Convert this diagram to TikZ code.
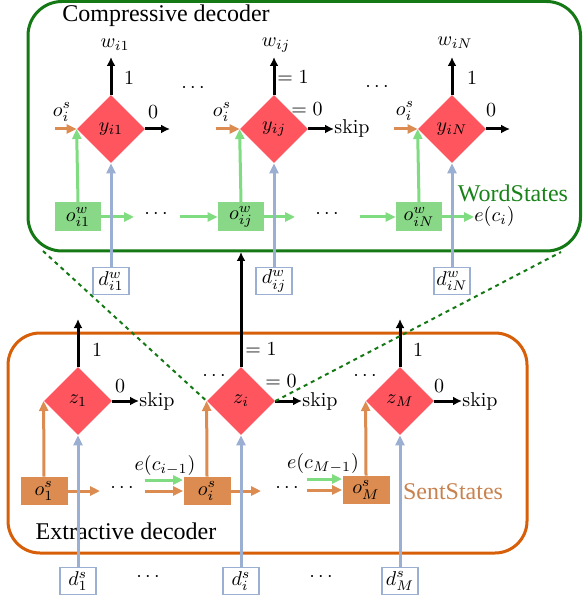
\documentclass[tikz,border=0pt]{standalone}
\usepackage{fontspec}
\newfontfamily\tfont{Liberation Serif}
\usetikzlibrary{shapes.geometric,arrows.meta}
\definecolor{dred}{RGB}{255,85,95}
\definecolor{wgreen}{RGB}{136,216,136}
\definecolor{agreen}{RGB}{128,220,128}
\definecolor{sorange}{RGB}{220,140,80}
\definecolor{dblue}{RGB}{155,175,210}
\definecolor{cgreen}{RGB}{20,120,20}
\definecolor{tgreen}{RGB}{25,130,25}
\definecolor{eorange}{RGB}{215,95,10}
\definecolor{torange}{RGB}{200,130,80}
\begin{document}
\begin{tikzpicture}[x=0.5pt,y=-0.5pt,
  dia/.style={diamond,fill=dred,minimum width=34pt,minimum height=34pt,inner sep=0pt},
  wbox/.style={fill=wgreen,minimum width=23pt,minimum height=14.5pt,inner sep=0pt},
  sbox/.style={fill=sorange,minimum width=23.5pt,minimum height=14pt,inner sep=0pt},
  dbox/.style={draw=dblue,line width=0.8pt,fill=white,minimum width=18pt,minimum height=13.5pt,inner sep=0.5pt},
  blk/.style={line width=1.5pt,-{Latex[length=4.5pt,width=4.5pt]}},
  garr/.style={draw=agreen,line width=1.5pt,-{Triangle[length=5pt,width=4.5pt]}},
  oarr/.style={draw=sorange,line width=1.5pt,-{Triangle[length=5pt,width=4.5pt]}},
  barr/.style={draw=dblue,line width=1.5pt,-{Triangle[length=5pt,width=4.5pt]}},
  gdot/.style={draw=cgreen,line width=1pt,dash pattern=on 2pt off 2pt},
  lbl/.style={inner sep=0pt},
  txt/.style={inner sep=0pt,font=\tfont\fontsize{12}{14}\selectfont}
]
\useasboundingbox (0,0) rectangle (582,603);

% ---------- containers ----------
\draw[cgreen,line width=1.5pt,rounded corners=17pt] (28,1.5) rectangle (580.5,251);
\draw[eorange,line width=1.5pt,rounded corners=16pt] (8,333) rectangle (527,553);
\node[txt] (ctitle) at (166,16) {Compressive decoder};
\node[txt] (etitle) at (126,531) {Extractive decoder};
\node[txt,text=tgreen] (wstates) at (513,193) {WordStates};
\node[txt,text=torange] (sstates) at (453,492) {SentStates};

% ---------- compressive decoder ----------
\node[dia] (Y1) at (111,129) {$y_{i1}$};
\node[dia] (Yj) at (274,129) {$y_{ij}$};
\node[dia] (YN) at (452,129) {$y_{iN}$};
\node[wbox] (OW1) at (78,217) {$o^w_{i1}$};
\node[wbox] (OWj) at (241,217) {$o^w_{ij}$};
\node[wbox] (OWN) at (419,217) {$o^w_{iN}$};
\node[dbox] (DW1) at (111,281) {$d^w_{i1}$};
\node[dbox] (DWj) at (274,281) {$d^w_{ij}$};
\node[dbox] (DWN) at (452,281) {$d^w_{iN}$};

\coordinate (W1) at (111,57);
\coordinate (Wj) at (274,57);
\coordinate (WN) at (452,57);
\node[lbl] (lw1) at (115,45) {$w_{i1}$};
\node[lbl] (lwj) at (276,45) {$w_{ij}$};
\node[lbl] (lwN) at (455,43) {$w_{iN}$};
\draw[blk] (Y1.north) -- (W1);
\draw[blk] (Yj.north) -- (Wj);
\draw[blk] (YN.north) -- (WN);
\node[lbl] (one1) at (129,78) {$1$};
\node[lbl] (onej) at (293,77) {$=1$};
\node[lbl] (oneN) at (472,78) {$1$};

\coordinate (R1) at (170,129);
\coordinate (RN) at (510,129);
\node[lbl,anchor=west] (skipj) at (334,129) {skip};
\draw[blk] (Y1.east) -- (R1);
\draw[blk] (Yj.east) -- (skipj.west);
\draw[blk] (YN.east) -- (RN);
\node[lbl] (zero1) at (153,112) {$0$};
\node[lbl] (zeroj) at (307,109) {$=0$};
\node[lbl] (zeroN) at (491,110) {$0$};

\node[lbl] (dt1) at (193,88) {$\cdots$};
\node[lbl] (dt2) at (377,87) {$\cdots$};

\coordinate (S1) at (55,129);
\coordinate (Sj) at (216,129);
\coordinate (SN) at (394,129);
\draw[oarr] (S1) -- (Y1.west);
\draw[oarr] (Sj) -- (Yj.west);
\draw[oarr] (SN) -- (YN.west);
\node[lbl] (os1) at (62,112) {$o_i^s$};
\node[lbl] (osj) at (222,112) {$o_i^s$};
\node[lbl] (osN) at (405,111) {$o_i^s$};

\draw[garr] (OW1.north) -- (Y1.west);
\draw[garr] (OWj.north) -- (Yj.west);
\draw[garr] (OWN.north) -- (YN.west);

\coordinate (g1a) at (134,217);
\coordinate (g1b) at (180,217);
\coordinate (g2a) at (295,217);
\coordinate (g2b) at (360,217);
\node[lbl,anchor=west] (eci) at (474,217) {$e(c_i)$};
\draw[garr] (OW1.east) -- (g1a);
\node[lbl] (dtw1) at (156,214) {$\cdots$};
\draw[garr] (g1b) -- (OWj.west);
\draw[garr] (OWj.east) -- (g2a);
\node[lbl] (dtw2) at (327,214) {$\cdots$};
\draw[garr] (g2b) -- (OWN.west);
\draw[garr] (OWN.east) -- (eci.west);

\draw[barr] (DW1.north) -- (Y1.south);
\draw[barr] (DWj.north) -- (Yj.south);
\draw[barr] (DWN.north) -- (YN.south);

% ---------- extractive decoder ----------
\node[dia] (Z1) at (78,401) {$z_1$};
\node[dia] (Zi) at (241,401) {$z_i$};
\node[dia] (ZM) at (400,401) {$z_M$};
\node[sbox] (OS1) at (44,491) {$o^s_1$};
\node[sbox] (OSi) at (207,491) {$o^s_i$};
\node[sbox] (OSM) at (366,490) {$o^s_M$};
\node[dbox] (DS1) at (78,581) {$d^s_1$};
\node[dbox] (DSi) at (241,581) {$d^s_i$};
\node[dbox] (DSM) at (400,581) {$d^s_M$};

\coordinate (U1) at (78,319);
\coordinate (Ui) at (241,252);
\coordinate (UM) at (400,319);
\draw[blk] (Z1.north) -- (U1);
\draw[blk] (Zi.north) -- (Ui);
\draw[blk] (ZM.north) -- (UM);
\node[lbl] (zo1) at (97,350) {$1$};
\node[lbl] (zoi) at (261,349) {$=1$};
\node[lbl] (zoM) at (418,350) {$1$};

\node[lbl,anchor=west] (sk1) at (139,401) {skip};
\node[lbl,anchor=west] (ski) at (302,401) {skip};
\node[lbl,anchor=west] (skM) at (462,401) {skip};
\draw[blk] (Z1.east) -- (sk1.west);
\draw[blk] (Zi.east) -- (ski.west);
\draw[blk] (ZM.east) -- (skM.west);
\node[lbl] (zz1) at (120,386) {$0$};
\node[lbl] (zzi) at (281,381) {$=0$};
\node[lbl] (zzM) at (439,386) {$0$};
\node[lbl] (dz1) at (214,376) {$\cdots$};
\node[lbl] (dz2) at (365,376) {$\cdots$};

\draw[oarr] (OS1.north) -- (Z1.west);
\draw[oarr] (OSi.north) -- (Zi.west);
\draw[oarr] (OSM.north) -- (ZM.west);

\coordinate (o1a) at (100,491);
\coordinate (o1b) at (145,491);
\coordinate (o2a) at (261,491);
\coordinate (o2b) at (307,490);
\coordinate (e1b) at (145,480);
\coordinate (e1e) at (183,480);
\coordinate (e2b) at (307,479);
\coordinate (e2e) at (342,479);
\draw[oarr] (OS1.east) -- (o1a);
\node[lbl] (ds1) at (122,488) {$\cdots$};
\draw[oarr] (o1b) -- (OSi.west);
\draw[garr] (e1b) -- (e1e);
\node[lbl] (lec1) at (165,465) {$e(c_{i-1})$};
\draw[oarr] (OSi.east) -- (o2a);
\node[lbl] (ds2) at (287,488) {$\cdots$};
\draw[oarr] (o2b) -- (OSM.west);
\draw[garr] (e2b) -- (e2e);
\node[lbl] (lec2) at (323,463) {$e(c_{M-1})$};

\draw[barr] (DS1.north) -- (Z1.south);
\draw[barr] (DSi.north) -- (Zi.south);
\draw[barr] (DSM.north) -- (ZM.south);

\node[lbl] (db1) at (148,577) {$\cdots$};
\node[lbl] (db2) at (321,577) {$\cdots$};

% ---------- zoom lines ----------
\coordinate (cbl) at (43,251);
\coordinate (cbr) at (561,252);
\draw[gdot] (cbl) -- (Zi.west);
\draw[gdot] (Zi.east) -- (cbr);
\end{tikzpicture}
\end{document}
